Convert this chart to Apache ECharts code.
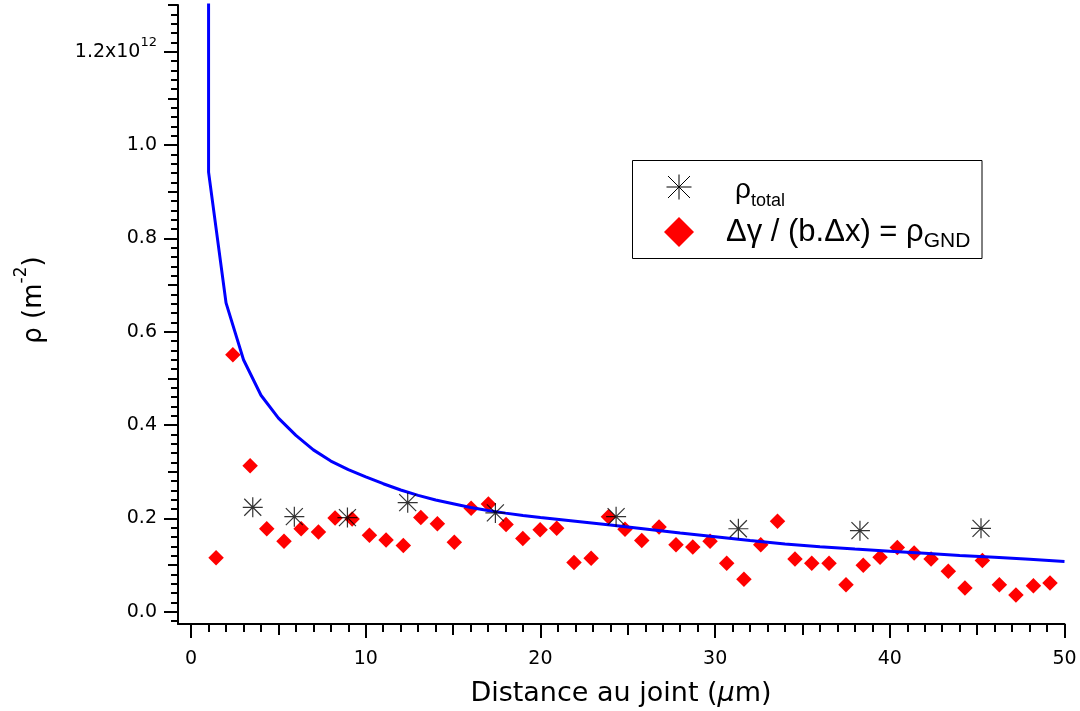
<!DOCTYPE html>
<html>
<head>
<meta charset="utf-8">
<script src="https://cdn.jsdelivr.net/npm/echarts@6/dist/echarts.min.js"></script>
<style>
html,body{margin:0;padding:0;background:#fff;}
#c{width:1080px;height:711px;}
</style>
</head>
<body>
<div id="c"></div>
<script>
// ---- data ----
const gndX = [1.43, 2.39, 3.38, 4.33, 5.32, 6.30, 7.29, 8.24, 9.22, 10.21,
  11.16, 12.15, 13.15, 14.10, 15.07, 16.03, 17.02, 18.03, 18.99, 19.98,
  20.93, 21.92, 22.90, 23.89, 24.84, 25.80, 26.79, 27.76, 28.72, 29.71,
  30.66, 31.65, 32.61, 33.57, 34.57, 35.53, 36.52, 37.49, 38.48, 39.44,
  40.43, 41.39, 42.36, 43.35, 44.30, 45.30, 46.27, 47.22, 48.22, 49.17];
const gndY = [0.116, 0.551, 0.313, 0.178, 0.151, 0.178, 0.171, 0.201, 0.199, 0.164,
  0.154, 0.142, 0.202, 0.189, 0.149, 0.222, 0.231, 0.187, 0.157, 0.176,
  0.179, 0.106, 0.115, 0.204, 0.177, 0.153, 0.182, 0.144, 0.139, 0.151,
  0.104, 0.070, 0.144, 0.194, 0.113, 0.104, 0.104, 0.058, 0.100, 0.117,
  0.138, 0.126, 0.113, 0.087, 0.051, 0.110, 0.058, 0.036, 0.056, 0.062];
const totalX = [3.53, 5.91, 8.95, 12.40, 17.42, 24.33, 31.33, 38.29, 45.22];
const totalY = [0.224, 0.204, 0.202, 0.234, 0.212, 0.204, 0.178, 0.174, 0.179];
const curveX = [1, 1, 2, 3, 4, 5, 6, 7, 8, 9, 10, 11, 12, 13, 14, 15, 16, 17, 18, 19,
  20, 22, 24, 26, 28, 30, 32, 34, 36, 38, 40, 42, 44, 46, 48, 50];
const curveY = [1.5, 0.942, 0.662, 0.540, 0.464, 0.415, 0.378, 0.347, 0.323, 0.3045,
  0.289, 0.2745, 0.261, 0.2495, 0.2395, 0.2315, 0.2235, 0.217, 0.2115, 0.2065,
  0.202, 0.194, 0.186, 0.1775, 0.169, 0.161, 0.153, 0.1455, 0.1395, 0.1345,
  0.130, 0.1255, 0.121, 0.117, 0.1125, 0.108];
const xMajorTicks = [0, 10, 20, 30, 40, 50];
const yMajorTicks = [0, 0.2, 0.4, 0.6, 0.8, 1.0, 1.2];
const xTitle = 'Distance au joint (';
const yTitle = 'ρ (m';

// ---- axis geometry ----
const xMin = -0.75, xMax = 50, yMin = -0.026, yMax = 1.30;
const xMinor = [], xMid = [];
for (let i = 0; i <= 50; i++) { if (i % 10 === 0) continue; if (i % 5 === 0) xMid.push(i); else xMinor.push(i); }
const yMinor = [], yMid = [];
for (let k = -1; k <= 65; k++) {
  const v = Math.round(k * 2) / 100;
  if (k % 10 === 0) continue;
  if (k % 5 === 0) yMid.push(v); else yMinor.push(v);
}
const FONT = 'DejaVu Sans';

function xAxisDef(ticks, len, main) {
  return {
    type: 'value', min: xMin, max: xMax, position: 'bottom',
    axisLine: { show: main, onZero: false, lineStyle: { color: '#000', width: 2 } },
    axisTick: { show: true, inside: false, length: len, customValues: ticks, lineStyle: { color: '#000', width: 2 } },
    axisLabel: main ? { show: true, customValues: xMajorTicks, margin: 26, color: '#000', fontFamily: FONT, fontSize: 19, formatter: v => String(v) } : { show: false },
    splitLine: { show: false }, minorTick: { show: false }
  };
}
function yAxisDef(ticks, len, main) {
  return {
    type: 'value', min: yMin, max: yMax, position: 'left',
    axisLine: { show: main, onZero: false, lineStyle: { color: '#000', width: 2 } },
    axisTick: { show: true, inside: false, length: len, customValues: ticks, lineStyle: { color: '#000', width: 2 } },
    axisLabel: main ? {
      show: true, customValues: yMajorTicks, margin: 21, color: '#000',
      formatter: v => Math.abs(v - 1.2) < 1e-9 ? '{a|1.2x10}{s|12}' : '{a|' + v.toFixed(1) + '}',
      rich: {
        a: { fontFamily: FONT, fontSize: 19, lineHeight: 19, verticalAlign: 'bottom', color: '#000' },
        s: { fontFamily: FONT, fontSize: 13, lineHeight: 13, verticalAlign: 'bottom', padding: [0, 0, 12, 0], color: '#000' }
      }
    } : { show: false },
    splitLine: { show: false }, minorTick: { show: false }
  };
}

const starPath = 'path://M0,-10L0,10M-10,0L10,0M-8.5,-8.5L8.5,8.5M-8.5,8.5L8.5,-8.5';

const chart = echarts.init(document.getElementById('c'), null, { renderer: 'canvas' });
chart.setOption({
  animation: false,
  backgroundColor: '#fff',
  grid: { left: 178, right: 15.5, top: 5, bottom: 87, containLabel: false, outerBoundsMode: 'none' },
  xAxis: [xAxisDef(xMajorTicks, 14, true), xAxisDef(xMinor, 8, false), xAxisDef(xMid, 11, false)],
  yAxis: [yAxisDef(yMajorTicks, 14, true), yAxisDef(yMinor, 7, false), yAxisDef(yMid, 10, false)],
  series: [
    {
      name: 'gnd', type: 'scatter', xAxisIndex: 0, yAxisIndex: 0,
      symbol: 'diamond', symbolSize: 15.5,
      itemStyle: { color: '#ff0000', opacity: 1 },
      data: gndX.map((x, i) => [x, gndY[i]]), z: 2
    },
    {
      name: 'fit', type: 'line', xAxisIndex: 0, yAxisIndex: 0,
      showSymbol: false, symbol: 'none', clip: true,
      lineStyle: { color: '#0000ff', width: 3 },
      data: curveX.map((x, i) => [x, curveY[i]]), z: 3
    },
    {
      name: 'total', type: 'scatter', xAxisIndex: 0, yAxisIndex: 0,
      symbol: starPath, symbolSize: 20,
      itemStyle: { color: '#000', borderColor: '#000', borderWidth: 1.2 },
      data: totalX.map((x, i) => [x, totalY[i]]), z: 4
    }
  ],
  graphic: [
    {
      type: 'text', x: 621, y: 694, z: 10,
      style: {
        text: '{a|' + xTitle + '}{i|µ}{a|m)}',
        align: 'center', verticalAlign: 'middle', textAlign: 'center', textVerticalAlign: 'middle',
        rich: {
          a: { fontFamily: FONT, fontSize: 27, fill: '#000', color: '#000' },
          i: { fontFamily: FONT, fontSize: 27, fontStyle: 'italic', fill: '#000', color: '#000' }
        }
      }
    },
    {
      type: 'text', x: 34, y: 300, rotation: Math.PI / 2, z: 10,
      style: {
        text: '{a|' + yTitle + '}{s|-2}{a|)}',
        align: 'center', verticalAlign: 'middle', textAlign: 'center', textVerticalAlign: 'middle',
        rich: {
          a: { fontFamily: FONT, fontSize: 26, lineHeight: 26, verticalAlign: 'bottom', fill: '#000', color: '#000' },
          s: { fontFamily: FONT, fontSize: 17, lineHeight: 17, verticalAlign: 'bottom', padding: [0, 0, 17, 0], fill: '#000', color: '#000' }
        }
      }
    },
    {
      type: 'rect', z: 10,
      shape: { x: 632.5, y: 160.5, width: 349.5, height: 98 },
      style: { fill: '#fff', stroke: '#000', lineWidth: 1 }
    },
    { type: 'line', z: 11, shape: { x1: 679, y1: 174.5, x2: 679, y2: 199.5 }, style: { stroke: '#000', lineWidth: 1 } },
    { type: 'line', z: 11, shape: { x1: 666.5, y1: 187, x2: 691.5, y2: 187 }, style: { stroke: '#000', lineWidth: 1 } },
    { type: 'line', z: 11, shape: { x1: 668, y1: 176, x2: 690, y2: 198 }, style: { stroke: '#000', lineWidth: 1 } },
    { type: 'line', z: 11, shape: { x1: 668, y1: 198, x2: 690, y2: 176 }, style: { stroke: '#000', lineWidth: 1 } },
    { type: 'polygon', z: 11, shape: { points: [[679, 217], [694, 232], [679, 247], [664, 232]] }, style: { fill: '#ff0000' } },
    {
      type: 'text', x: 735, y: 210, z: 11,
      style: {
        text: '{r|ρ}{t|total}',
        align: 'left', verticalAlign: 'bottom', textAlign: 'left', textVerticalAlign: 'bottom',
        rich: {
          r: { fontFamily: 'Liberation Sans', fontSize: 28, lineHeight: 28, verticalAlign: 'bottom', padding: [0, 0, 6, 0], fill: '#000', color: '#000' },
          t: { fontFamily: 'Liberation Sans', fontSize: 18, lineHeight: 18, verticalAlign: 'bottom', fill: '#000', color: '#000' }
        }
      }
    },
    {
      type: 'text', x: 726, y: 252, z: 11,
      style: {
        text: '{m|Δγ / (b.Δx) = ρ}{g|GND}',
        align: 'left', verticalAlign: 'bottom', textAlign: 'left', textVerticalAlign: 'bottom',
        rich: {
          m: { fontFamily: 'Liberation Sans', fontSize: 31, lineHeight: 31, verticalAlign: 'bottom', padding: [0, 0, 4, 0], fill: '#000', color: '#000' },
          g: { fontFamily: 'Liberation Sans', fontSize: 21, lineHeight: 21, verticalAlign: 'bottom', fill: '#000', color: '#000' }
        }
      }
    }
  ]
});
</script>
</body>
</html>
